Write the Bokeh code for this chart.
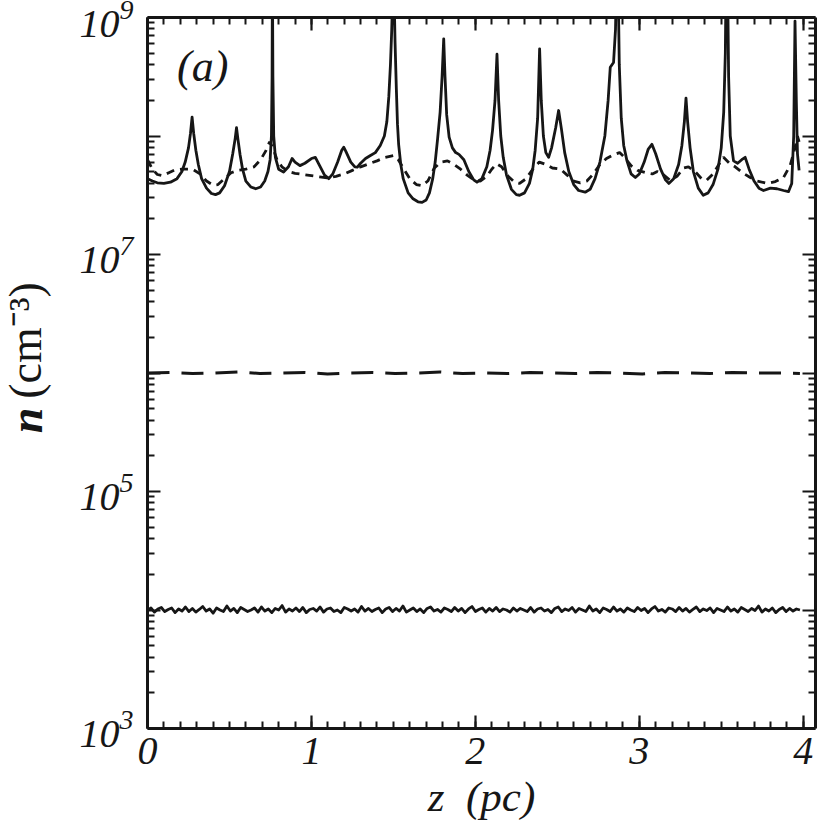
import numpy as np
from bokeh.plotting import figure
from bokeh.layouts import row
from bokeh.models import (FixedTicker, LinearAxis, LogAxis, Label,
                          CustomJSTickFormatter)
from bokeh.embed import file_html
from bokeh.resources import INLINE

# ---------------- data ----------------
# solid curve: z (pc) and log10 n (cm^-3)
solid_z = [0.00, 0.03, 0.06, 0.10, 0.14, 0.18, 0.21, 0.23, 0.25, 0.262, 0.272, 0.282, 0.295,
           0.31, 0.33, 0.36, 0.39, 0.415, 0.44, 0.47, 0.50, 0.52, 0.535, 0.543, 0.552, 0.565,
           0.58, 0.60, 0.63, 0.66, 0.69, 0.715, 0.735, 0.748, 0.756, 0.760, 0.762, 0.765, 0.770,
           0.78, 0.80, 0.83, 0.86, 0.882, 0.90, 0.93, 0.96, 1.00, 1.024, 1.05, 1.08, 1.106,
           1.13, 1.16, 1.185, 1.197, 1.21, 1.24, 1.265, 1.28, 1.30, 1.33, 1.36, 1.39, 1.42,
           1.445, 1.46, 1.472, 1.482, 1.490, 1.497, 1.503, 1.51, 1.518, 1.525, 1.532, 1.545,
           1.56, 1.59, 1.62, 1.65, 1.675, 1.70, 1.72, 1.74, 1.755, 1.77, 1.785, 1.797, 1.807,
           1.815, 1.825, 1.84, 1.86, 1.88, 1.90, 1.93, 1.96, 1.99, 2.01, 2.04, 2.07, 2.09,
           2.105, 2.12, 2.132, 2.142, 2.155, 2.17, 2.19, 2.22, 2.25, 2.27, 2.30, 2.33, 2.35,
           2.365, 2.38, 2.392, 2.402, 2.415, 2.43, 2.447, 2.465, 2.49, 2.508, 2.525, 2.545,
           2.57, 2.60, 2.63, 2.67, 2.70, 2.73, 2.76, 2.79, 2.81, 2.823, 2.843, 2.855, 2.862,
           2.870, 2.878, 2.89, 2.905, 2.925, 2.95, 2.976, 3.00, 3.03, 3.055, 3.077, 3.10,
           3.13, 3.16, 3.18, 3.21, 3.24, 3.26, 3.275, 3.285, 3.295, 3.31, 3.33, 3.36, 3.39,
           3.42, 3.45, 3.48, 3.50, 3.515, 3.525, 3.530, 3.538, 3.545, 3.555, 3.575, 3.60,
           3.625, 3.646, 3.67, 3.70, 3.73, 3.758, 3.80, 3.84, 3.88, 3.91, 3.93, 3.942, 3.950,
           3.958, 3.965, 3.975]
solid_logn = [7.64, 7.62, 7.605, 7.60, 7.61, 7.64, 7.70, 7.78, 7.90, 8.02, 8.16, 8.02, 7.88,
              7.76, 7.64, 7.56, 7.515, 7.505, 7.52, 7.58, 7.70, 7.85, 7.98, 8.07, 7.97, 7.84,
              7.72, 7.62, 7.57, 7.555, 7.57, 7.62, 7.70, 7.80, 8.0, 8.5, 9.4, 8.5, 8.0,
              7.82, 7.72, 7.695, 7.74, 7.81, 7.78, 7.75, 7.77, 7.81, 7.82, 7.75, 7.67, 7.64,
              7.68, 7.78, 7.88, 7.905, 7.87, 7.78, 7.74, 7.737, 7.77, 7.81, 7.835, 7.86, 7.92,
              8.00, 8.12, 8.33, 8.6, 8.9, 9.3, 9.3, 8.8, 8.4, 8.1, 7.93, 7.76,
              7.64, 7.52, 7.47, 7.445, 7.44, 7.46, 7.52, 7.64, 7.78, 7.98, 8.2, 8.5, 8.82,
              8.5, 8.18, 7.99, 7.90, 7.86, 7.845, 7.80, 7.70, 7.63, 7.61, 7.64, 7.74, 7.88,
              8.05, 8.3, 8.69, 8.3, 8.0, 7.82, 7.67, 7.55, 7.505, 7.50, 7.52, 7.60, 7.72,
              7.88, 8.15, 8.736, 8.3, 8.0, 7.86, 7.82, 7.90, 8.07, 8.215, 8.06, 7.86,
              7.70, 7.59, 7.54, 7.526, 7.55, 7.64, 7.78, 8.0, 8.3, 8.58, 8.62, 8.9, 9.4,
              9.4, 8.6, 8.15, 7.92, 7.79, 7.68, 7.65, 7.68, 7.78, 7.89, 7.93, 7.85,
              7.72, 7.63, 7.60, 7.64, 7.76, 7.92, 8.12, 8.32, 8.12, 7.90, 7.70, 7.56, 7.50,
              7.52, 7.59, 7.72, 7.90, 8.2, 8.7, 9.4, 9.4, 8.5, 8.0, 7.79, 7.77,
              7.80, 7.82, 7.72, 7.62, 7.56, 7.54, 7.56, 7.555, 7.54, 7.53, 7.60, 8.0, 8.97,
              8.3, 7.85, 7.71]

# short-dashed curve
dotted_z = [0.00, 0.03, 0.06, 0.09, 0.13, 0.17, 0.21, 0.25, 0.28, 0.32, 0.36, 0.40, 0.43,
            0.47, 0.51, 0.55, 0.60, 0.65, 0.69, 0.72, 0.745, 0.765, 0.79, 0.82, 0.86, 0.90,
            0.95, 1.00, 1.05, 1.10, 1.15, 1.20, 1.25, 1.30, 1.35, 1.40, 1.45, 1.50, 1.53,
            1.56, 1.60, 1.64, 1.675, 1.71, 1.75, 1.79, 1.83, 1.87, 1.91, 1.95, 1.99, 2.03,
            2.07, 2.10, 2.13, 2.16, 2.20, 2.24, 2.27, 2.31, 2.35, 2.39, 2.43, 2.47, 2.52,
            2.56, 2.60, 2.64, 2.68, 2.72, 2.76, 2.80, 2.84, 2.88, 2.91, 2.95, 2.99, 3.04,
            3.08, 3.11, 3.15, 3.19, 3.23, 3.27, 3.30, 3.34, 3.38, 3.41, 3.45, 3.49, 3.514,
            3.55, 3.585, 3.63, 3.677, 3.72, 3.78, 3.83, 3.88, 3.92, 3.95, 3.965, 3.975]
dotted_logn = [7.80, 7.72, 7.675, 7.665, 7.69, 7.715, 7.72, 7.72, 7.715, 7.68, 7.62, 7.585, 7.59,
               7.64, 7.69, 7.71, 7.72, 7.74, 7.80, 7.87, 7.95, 7.90, 7.80, 7.74, 7.70, 7.685,
               7.675, 7.665, 7.655, 7.645, 7.66, 7.68, 7.71, 7.74, 7.765, 7.79, 7.82, 7.835, 7.80,
               7.73, 7.64, 7.59, 7.58, 7.62, 7.73, 7.78, 7.79, 7.76, 7.72, 7.67, 7.63, 7.62,
               7.66, 7.72, 7.765, 7.74, 7.66, 7.61, 7.60, 7.64, 7.72, 7.78, 7.76, 7.73, 7.72,
               7.67, 7.62, 7.605, 7.62, 7.68, 7.76, 7.81, 7.84, 7.86, 7.82, 7.75, 7.71, 7.69,
               7.68, 7.70, 7.67, 7.625, 7.66, 7.73, 7.74, 7.70, 7.64, 7.625, 7.68, 7.77, 7.82,
               7.77, 7.74, 7.69, 7.65, 7.62, 7.60, 7.615, 7.65, 7.75, 7.90, 8.0, 7.95]

# long-dashed level near 1e6 (slightly noisy)
mid_n = [1.00e6, 1.01e6, 0.99e6, 1.00e6, 1.02e6, 0.99e6, 1.00e6, 1.01e6, 0.98e6, 1.00e6,
         1.01e6, 0.99e6, 1.00e6, 1.02e6, 0.99e6, 1.00e6, 0.99e6, 1.01e6, 1.00e6, 0.99e6,
         1.01e6, 1.00e6, 0.98e6, 1.01e6, 1.00e6, 0.99e6, 1.01e6, 1.00e6, 1.00e6, 0.99e6]

# noisy solid level near 1e4 (values in units of 1e3 cm^-3)
low_n_k = [9.9, 10.4, 9.6, 10.2, 10.5, 9.7, 10.1, 10.4, 9.5, 10.2, 9.8, 10.6, 9.7, 10.3, 9.6,
           10.1, 10.7, 9.8, 10.2, 9.4, 10.4, 10.0, 9.7, 10.8, 9.8, 10.3, 9.5, 10.5, 10.1, 9.7,
           10.0, 10.4, 9.6, 10.6, 9.8, 10.2, 9.5, 10.3, 10.0, 10.9, 9.6, 10.2, 9.8, 10.4, 9.7,
           10.5, 9.5, 10.1, 10.3, 9.8, 10.6, 9.6, 10.2, 10.4, 9.7, 10.0, 9.5, 10.5, 10.2, 9.8,
           10.2, 9.6, 10.7, 9.8, 10.3, 9.7, 10.1, 10.4, 9.5, 10.2, 10.5, 9.7, 10.3, 9.8, 10.8,
           9.6, 10.0, 10.4, 9.7, 10.2, 9.5, 10.3, 10.6, 9.8, 10.1, 9.6, 10.4, 10.1, 9.7, 10.5,
           9.8, 10.3, 9.5, 10.2, 10.7, 9.7, 10.1, 10.4, 9.6, 10.3, 9.8, 10.5, 9.7, 10.2, 10.0,
           9.6, 10.4, 9.8, 10.3, 10.0, 9.7, 10.5, 9.6, 10.2, 10.4, 9.8, 10.1, 9.5, 10.3, 10.6,
           9.7, 10.2, 9.9, 10.5, 9.6, 10.3, 10.0, 9.7, 10.8, 9.8, 10.2, 9.5, 10.4, 10.1, 9.7,
           10.6, 9.8, 10.2, 9.6, 10.4, 10.0, 9.7, 10.5, 9.9, 10.3, 9.5, 10.2, 10.7, 9.8, 10.1,
           9.6, 10.4, 10.2, 9.7, 10.5, 9.8, 10.3, 9.6, 10.1, 10.6, 9.7, 10.2, 9.9, 10.4, 9.5,
           10.3, 10.0, 9.7, 10.6, 9.8, 10.2, 9.6, 10.5, 10.1, 9.7, 10.3, 9.9, 10.8, 9.6, 10.2,
           9.8, 10.4, 9.5, 10.1, 10.5, 9.7, 10.3, 9.8, 10.2, 10.0]
level_z_end = 3.98

x_major = [0, 1, 2, 3, 4]
y_major = [1e3, 1e4, 1e5, 1e6, 1e7, 1e8, 1e9]
y_labelled = [1e3, 1e5, 1e7, 1e9]

# ---------------- figure ----------------
FONT = "Liberation Serif"
INK = "#161616"
H = 828
LEFT_W = 70
TOP = 17

p = figure(frame_width=668, frame_height=711, x_range=(0, 4.075), y_range=(1e3, 1e9),
           y_axis_type="log", output_backend="svg", toolbar_location=None,
           min_border_left=147 - LEFT_W, min_border_top=TOP, min_border_right=8,
           min_border_bottom=H - TOP - 711,
           background_fill_color="white", border_fill_color="white")
p.outline_line_color = None
p.grid.visible = False

solid_n = [10 ** v for v in solid_logn]
dotted_n = [10 ** v for v in dotted_logn]
low_n = [v * 1e3 for v in low_n_k]
mid_z = np.linspace(0, level_z_end, len(mid_n))
low_z = np.linspace(0, level_z_end, len(low_n))

p.line(low_z, low_n, line_color=INK, line_width=2.8, line_join="round")
p.line(mid_z, mid_n, line_color=INK, line_width=3, line_dash="22 12")
p.line(dotted_z, dotted_n, line_color=INK, line_width=2.8, line_dash="8 6")
p.line(solid_z, solid_n, line_color=INK, line_width=2.8, line_join="round")

x_minor = [round(0.1 * i, 1) for i in range(41)]
y_minor = [k * 10 ** d for d in range(3, 9) for k in range(2, 10)]

xt = FixedTicker(ticks=x_major, minor_ticks=x_minor)
yt = FixedTicker(ticks=y_major, minor_ticks=y_minor)


def style_axis(ax, labels=True):
    ax.axis_line_width = 3
    ax.axis_line_color = INK
    ax.major_tick_line_width = 2.2
    ax.minor_tick_line_width = 2
    ax.major_tick_line_color = INK
    ax.minor_tick_line_color = INK
    ax.major_tick_in = 13
    ax.major_tick_out = 0
    ax.minor_tick_in = 7
    ax.minor_tick_out = 0
    ax.major_label_text_font = FONT
    ax.major_label_text_font_style = "italic"
    ax.major_label_text_color = INK
    if not labels:
        ax.major_label_text_font_size = "0px"
        ax.major_label_standoff = 0
        ax.formatter = CustomJSTickFormatter(code="return ''")


xa = p.xaxis[0]
xa.ticker = xt
style_axis(xa)
xa.major_label_text_font_size = "40px"
xa.major_label_standoff = 9
xa.axis_label = "z\u00a0\u00a0(pc)"
xa.axis_label_text_font = FONT
xa.axis_label_text_font_style = "italic"
xa.axis_label_text_font_size = "43px"
xa.axis_label_text_color = INK
xa.axis_label_standoff = 6

ya = p.yaxis[0]
ya.ticker = yt
style_axis(ya)
ya.major_label_text_font_size = "40px"
ya.major_label_standoff = 14
ya.major_label_overrides = {v: "" for v in y_major if v not in y_labelled}

top = LinearAxis(ticker=xt)
style_axis(top, labels=False)
p.add_layout(top, "above")
right = LogAxis(ticker=yt)
style_axis(right, labels=False)
p.add_layout(right, "right")

p.add_layout(Label(x=0.18, y=10 ** 8.585, text="(a)", text_font=FONT,
                   text_font_style="italic", text_font_size="44px", text_color=INK,
                   text_align="left", text_baseline="middle"))

# narrow strip on the left holding the rotated y-axis title.
# Its frame lines up with the main frame, so y here = distance (px) above page y = TOP + H.
lab = figure(frame_width=LEFT_W, frame_height=H, x_range=(0, LEFT_W), y_range=(0, H),
             output_backend="svg", toolbar_location=None, title=None,
             x_axis_location=None, y_axis_location=None,
             min_border=0, min_border_left=0, min_border_right=0,
             min_border_top=0, min_border_bottom=0,
             background_fill_color="white", border_fill_color="white")
lab.outline_line_color = None
lab.grid.visible = False


def page_y(py):
    return H - (py - TOP)


lab.add_layout(Label(x=26, y=page_y(420), text="n", text_font=FONT,
                     text_font_style="bold italic", text_font_size="46px", text_color=INK,
                     text_align="center", text_baseline="middle", angle=np.pi / 2))
lab.add_layout(Label(x=25, y=page_y(340), text="(cm\u207b\u00b3)", text_font=FONT,
                     text_font_size="46px", text_color=INK,
                     text_align="center", text_baseline="middle", angle=np.pi / 2))

layout = row(lab, p, spacing=0)
open("out.html", "w").write(file_html(layout, INLINE))
